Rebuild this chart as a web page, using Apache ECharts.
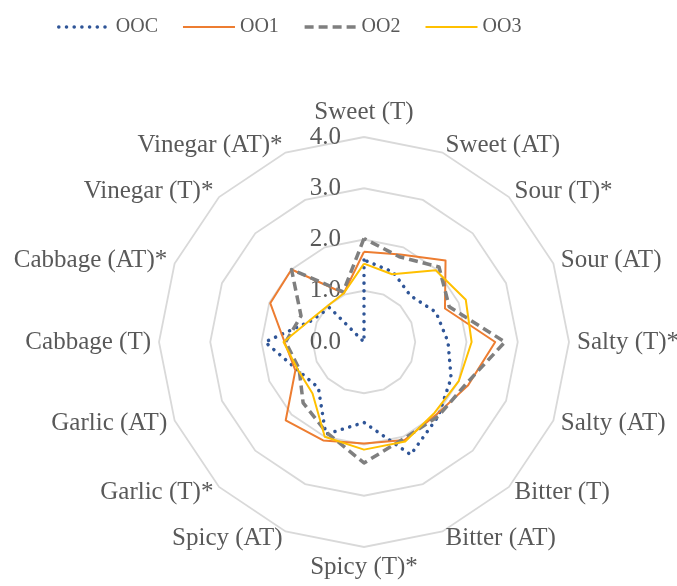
<!DOCTYPE html>
<html>
<head>
<meta charset="utf-8">
<script src="https://cdn.jsdelivr.net/npm/echarts@6/dist/echarts.min.js"></script>
<style>
html,body{margin:0;padding:0;background:#fff;}
#chart{width:677px;height:586px;}
</style>
</head>
<body>
<div id="chart"></div>
<script>
// Axes (clockwise from top)
var categories = ['Sweet (T)', 'Sweet (AT)', 'Sour (T)*', 'Sour (AT)', 'Salty (T)*', 'Salty (AT)',
  'Bitter (T)', 'Bitter (AT)', 'Spicy (T)*', 'Spicy (AT)', 'Garlic (T)*', 'Garlic (AT)',
  'Cabbage (T)', 'Cabbage (AT)*', 'Vinegar (T)*', 'Vinegar (AT)*'];
var seriesNames = ['OOC', 'OO1', 'OO2', 'OO3'];
var OOC = [1.6, 1.48, 1.28, 1.52, 1.64, 1.84, 2.05, 2.38, 1.57, 1.95, 1.26, 1.41, 1.93, 1.1, 0.95, 0];
var OO1 = [1.76, 1.85, 2.25, 1.71, 2.56, 2.2, 2.0, 2.07, 1.98, 2.08, 2.16, 1.45, 1.55, 1.98, 2.0, 1.03];
var OO2 = [2.02, 1.8, 2.07, 1.8, 2.75, 2.15, 2.05, 2.04, 2.36, 1.91, 1.68, 1.37, 1.53, 1.33, 2.0, 1.06];
var OO3 = [1.53, 1.43, 1.98, 2.15, 2.1, 2.0, 1.95, 2.1, 2.1, 2.0, 1.42, 1.4, 1.57, 1.13, 1.0, 1.03];
var tickLabels = ['0.0', '1.0', '2.0', '3.0', '4.0'];
var axisMax = 4;

var FONT = 'Liberation Serif';
var TXT = '#595959';
var colors = ['#2f5597', '#ed7d31', '#7f7f7f', '#ffc000'];
var lineStyles = [
  {color: colors[0], width: 3.5, type: [0.1, 7.6], cap: 'round'},
  {color: colors[1], width: 2},
  {color: colors[2], width: 3.5, type: [9, 5]},
  {color: colors[3], width: 2}
];
var values = [OOC, OO1, OO2, OO3];

// ECharts places radar indicators counter-clockwise; reorder to get clockwise order
var order = [0];
for (var k = categories.length - 1; k >= 1; k--) order.push(k);

var indicator = order.map(function (idx, j) {
  var ind = {name: categories[idx], max: axisMax, min: 0};
  if (j === 0) ind.axisLabel = {show: true};
  return ind;
});

var series = [];
// dummy line series to supply line-style legend icons
seriesNames.forEach(function (n, i) {
  series.push({type: 'line', name: n, data: [], symbol: 'none', lineStyle: lineStyles[i], itemStyle: {color: colors[i]}});
});
seriesNames.forEach(function (n, i) {
  series.push({
    type: 'radar', name: n, symbol: 'none', silent: true,
    lineStyle: lineStyles[i], itemStyle: {color: colors[i]},
    data: [{name: n, value: order.map(function (idx) { return values[i][idx]; })}]
  });
});

var chart = echarts.init(document.getElementById('chart'), null, {renderer: 'canvas'});
chart.setOption({
  animation: false,
  backgroundColor: '#fff',
  legend: {
    left: 52, top: 12, itemWidth: 52, itemHeight: 14, itemGap: 24,
    textStyle: {fontFamily: FONT, fontSize: 20, color: TXT},
    itemStyle: {color: 'rgba(0,0,0,0)', borderWidth: 0, opacity: 0},
    data: seriesNames.map(function (n, i) { return {name: n, lineStyle: {width: lineStyles[i].width}}; })
  },
  grid: {left: 0, top: 0, width: 1, height: 1, show: false},
  xAxis: {type: 'category', show: false, data: []},
  yAxis: {type: 'value', show: false},
  radar: {
    center: [364, 342], radius: 205, startAngle: 90, splitNumber: 4, shape: 'polygon',
    indicator: indicator,
    axisName: {fontFamily: FONT, fontSize: 25, color: TXT},
    nameGap: 8,
    axisLine: {show: false},
    axisTick: {show: false},
    splitArea: {show: false},
    splitLine: {lineStyle: {color: '#d9d9d9', width: 1.8}},
    axisLabel: {show: false, fontFamily: FONT, fontSize: 25, color: TXT, margin: 23,
      formatter: function (v) { return tickLabels[Math.round(v)] || ''; }}
  },
  series: series
});
</script>
</body>
</html>
